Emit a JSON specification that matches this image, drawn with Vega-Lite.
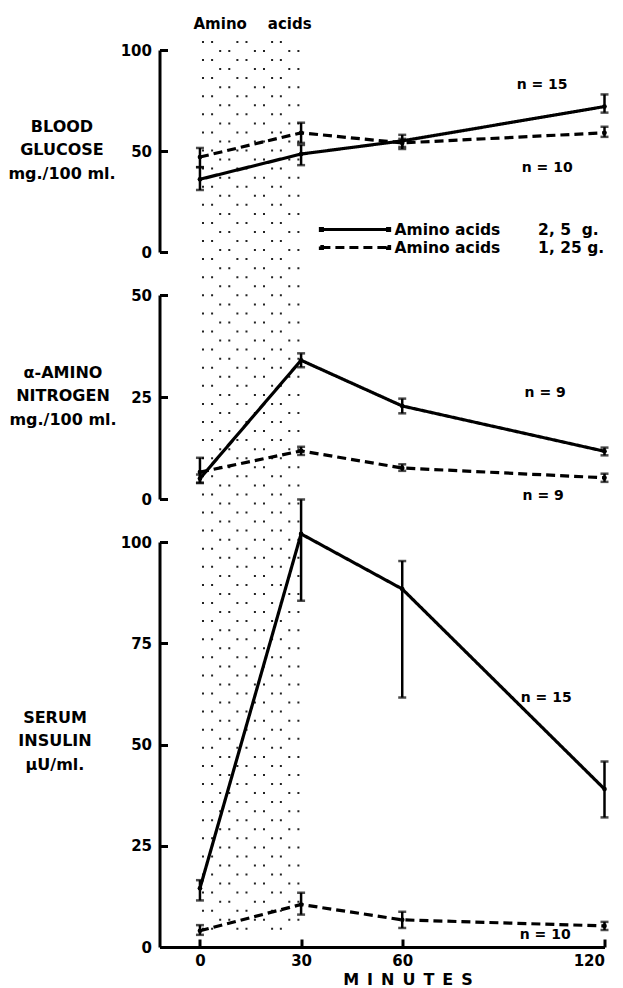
{
  "$schema": "https://vega.github.io/schema/vega-lite/v6.json",
  "background": "white",
  "padding": {"left": 7.5, "top": 16, "right": 5, "bottom": 5},
  "autosize": {"type": "pad"},
  "datasets": {
    "d": [
      {"panel": "glucose", "dose": "2.5", "t": 0, "mean": 36, "lo": 30.7, "hi": 42},
      {"panel": "glucose", "dose": "2.5", "t": 30, "mean": 48.5, "lo": 43, "hi": 53},
      {"panel": "glucose", "dose": "2.5", "t": 60, "mean": 55, "lo": 51, "hi": 58},
      {"panel": "glucose", "dose": "2.5", "t": 120, "mean": 72, "lo": 69, "hi": 78},
      {"panel": "glucose", "dose": "1.25", "t": 0, "mean": 47, "lo": 42, "hi": 51.5},
      {"panel": "glucose", "dose": "1.25", "t": 30, "mean": 59, "lo": 54, "hi": 64},
      {"panel": "glucose", "dose": "1.25", "t": 60, "mean": 54, "lo": 52, "hi": 56},
      {"panel": "glucose", "dose": "1.25", "t": 120, "mean": 59, "lo": 57, "hi": 62},
      {"panel": "amino", "dose": "2.5", "t": 0, "mean": 5, "lo": 4, "hi": 6},
      {"panel": "amino", "dose": "2.5", "t": 30, "mean": 34, "lo": 32.3, "hi": 35.7},
      {"panel": "amino", "dose": "2.5", "t": 60, "mean": 22.8, "lo": 21, "hi": 24.6},
      {"panel": "amino", "dose": "2.5", "t": 120, "mean": 11.7, "lo": 10.7, "hi": 12.6},
      {"panel": "amino", "dose": "1.25", "t": 0, "mean": 6.6, "lo": 3.9, "hi": 10.1},
      {"panel": "amino", "dose": "1.25", "t": 30, "mean": 11.8, "lo": 10.8, "hi": 12.8},
      {"panel": "amino", "dose": "1.25", "t": 60, "mean": 7.6, "lo": 6.9, "hi": 8.5},
      {"panel": "amino", "dose": "1.25", "t": 120, "mean": 5.2, "lo": 4.2, "hi": 6.2},
      {"panel": "insulin", "dose": "2.5", "t": 0, "mean": 14.5, "lo": 11.5, "hi": 16.5},
      {"panel": "insulin", "dose": "2.5", "t": 30, "mean": 102, "lo": 85.5, "hi": 110.5},
      {"panel": "insulin", "dose": "2.5", "t": 60, "mean": 88.4, "lo": 61.6, "hi": 95.3},
      {"panel": "insulin", "dose": "2.5", "t": 120, "mean": 39, "lo": 32, "hi": 45.8},
      {"panel": "insulin", "dose": "1.25", "t": 0, "mean": 4, "lo": 3, "hi": 5.4},
      {"panel": "insulin", "dose": "1.25", "t": 30, "mean": 10.5, "lo": 8, "hi": 13.4},
      {"panel": "insulin", "dose": "1.25", "t": 60, "mean": 6.7, "lo": 4.7, "hi": 8.7},
      {"panel": "insulin", "dose": "1.25", "t": 120, "mean": 5.2, "lo": 4.2, "hi": 6.2}
    ],
    "dotsA": [{"m": 0.9}, {"m": 3.6}, {"m": 11.1}, {"m": 13.8}, {"m": 21.4}, {"m": 24.0}],
    "dotsB": [{"m": 6.0}, {"m": 8.7}, {"m": 16.3}, {"m": 19.0}, {"m": 26.5}, {"m": 29.2}],
    "one": [{}]
  },
  "spacing": 43,
  "bounds": "flush",
  "vconcat": [
    {
      "width": 445, "height": 202,
      "data": {"name": "d"},
      "transform": [{"filter": "datum.panel == 'glucose'"}],
      "layer": [
        {
          "data": {"name": "dotsA"},
          "mark": {"type": "rule", "strokeDash": [2, 16.1], "strokeWidth": 2, "strokeCap": "butt", "color": "#222"},
          "encoding": {
            "x": {"field": "m", "type": "quantitative", "scale": {"domain": [-12, 120], "nice": false, "zero": false}, "axis": null},
            "y": {"datum": 104.5, "type": "quantitative", "scale": {"domain": [0, 100], "nice": false, "zero": false}},
            "y2": {"datum": -337}
          }
        },
        {
          "data": {"name": "dotsB"},
          "mark": {"type": "rule", "strokeDash": [2, 16.1], "strokeDashOffset": 9, "strokeWidth": 2, "strokeCap": "butt", "color": "#222"},
          "encoding": {
            "x": {"field": "m", "type": "quantitative", "scale": {"domain": [-12, 120], "nice": false, "zero": false}, "axis": null},
            "y": {"datum": 104.5, "type": "quantitative", "scale": {"domain": [0, 100], "nice": false, "zero": false}},
            "y2": {"datum": -337}
          }
        },
        {
          "mark": {"type": "rule", "strokeWidth": 2.5, "color": "black"},
          "encoding": {
            "x": {"field": "t", "type": "quantitative", "scale": {"domain": [-12, 120], "nice": false, "zero": false}, "axis": null},
            "y": {"field": "lo", "type": "quantitative", "scale": {"domain": [0, 100], "nice": false, "zero": false},
                  "axis": {"values": [0, 50, 100], "title": ["BLOOD", "GLUCOSE", "mg./100 ml."], "titleAngle": 0, "titleAlign": "center", "titleBaseline": "middle", "titleX": -98, "titleY": 76, "titleLineHeight": 23.5}},
            "y2": {"field": "hi"}
          }
        },
        {
          "mark": {"type": "tick", "orient": "horizontal", "size": 8, "thickness": 2.5, "color": "black"},
          "encoding": {
            "x": {"field": "t", "type": "quantitative", "scale": {"domain": [-12, 120], "nice": false, "zero": false}, "axis": null},
            "y": {"field": "lo", "type": "quantitative", "scale": {"domain": [0, 100], "nice": false, "zero": false}}
          }
        },
        {
          "mark": {"type": "tick", "orient": "horizontal", "size": 8, "thickness": 2.5, "color": "black"},
          "encoding": {
            "x": {"field": "t", "type": "quantitative", "scale": {"domain": [-12, 120], "nice": false, "zero": false}, "axis": null},
            "y": {"field": "hi", "type": "quantitative", "scale": {"domain": [0, 100], "nice": false, "zero": false}}
          }
        },
        {
          "mark": {"type": "line", "strokeWidth": 3.2, "color": "black"},
          "encoding": {
            "x": {"field": "t", "type": "quantitative", "scale": {"domain": [-12, 120], "nice": false, "zero": false}, "axis": null},
            "y": {"field": "mean", "type": "quantitative", "scale": {"domain": [0, 100], "nice": false, "zero": false}},
            "strokeDash": {"field": "dose", "type": "nominal",
              "scale": {"domain": ["2.5", "1.25"], "range": [[1, 0], [9, 5]]},
              "legend": {"orient": "none", "legendX": 187, "legendY": 171, "title": null,
                "symbolType": "M-4.8,0H4.8M-4.95,-0.15h0.3v0.3h-0.3zM4.65,-0.15h0.3v0.3h-0.3z",
                "symbolSize": 196, "symbolStrokeWidth": 3, "symbolStrokeColor": "black", "symbolFillColor": "black",
                "labelOffset": 31, "rowPadding": 1, "labelLimit": 400,
                "labelExpr": "datum.label == '2.5' ? 'Amino acids\u00a0\u00a0\u00a0\u00a0\u00a0\u00a0\u00a02, 5\u00a0\u00a0g.' : 'Amino acids\u00a0\u00a0\u00a0\u00a0\u00a0\u00a0\u00a01, 25\u00a0g.'",
                "encode": {"symbols": {"update": {"fill": {"value": "black"}, "stroke": {"value": "black"}, "strokeWidth": {"value": 3}}}}}}
          }
        },
        {
          "mark": {"type": "circle", "size": 22, "color": "black", "opacity": 1},
          "encoding": {
            "x": {"field": "t", "type": "quantitative", "scale": {"domain": [-12, 120], "nice": false, "zero": false}, "axis": null},
            "y": {"field": "mean", "type": "quantitative", "scale": {"domain": [0, 100], "nice": false, "zero": false}}
          }
        },
        {
          "data": {"name": "one"},
          "mark": {"type": "text", "text": "n = 15", "font": "DejaVu Sans", "fontWeight": "bold", "fontSize": 14, "color": "black"},
          "encoding": {
            "x": {"datum": 101.5, "type": "quantitative", "scale": {"domain": [-12, 120], "nice": false, "zero": false}, "axis": null},
            "y": {"datum": 82.7, "type": "quantitative", "scale": {"domain": [0, 100], "nice": false, "zero": false}}
          }
        },
        {
          "data": {"name": "one"},
          "mark": {"type": "text", "text": "n = 10", "font": "DejaVu Sans", "fontWeight": "bold", "fontSize": 14, "color": "black"},
          "encoding": {
            "x": {"datum": 103, "type": "quantitative", "scale": {"domain": [-12, 120], "nice": false, "zero": false}, "axis": null},
            "y": {"datum": 41.6, "type": "quantitative", "scale": {"domain": [0, 100], "nice": false, "zero": false}}
          }
        },
        {
          "data": {"name": "one"},
          "mark": {"type": "text", "text": "Amino\u00a0\u00a0\u00a0\u00a0acids", "font": "DejaVu Sans", "fontWeight": "bold", "fontSize": 15, "color": "black"},
          "encoding": {
            "x": {"datum": 15.6, "type": "quantitative", "scale": {"domain": [-12, 120], "nice": false, "zero": false}, "axis": null},
            "y": {"datum": 113, "type": "quantitative", "scale": {"domain": [0, 100], "nice": false, "zero": false}}
          }
        }
      ]
    },
    {
      "width": 445, "height": 204,
      "data": {"name": "d"},
      "transform": [{"filter": "datum.panel == 'amino'"}],
      "layer": [
        {
          "mark": {"type": "rule", "strokeWidth": 2.5, "color": "black"},
          "encoding": {
            "x": {"field": "t", "type": "quantitative", "scale": {"domain": [-12, 120], "nice": false, "zero": false}, "axis": null},
            "y": {"field": "lo", "type": "quantitative", "scale": {"domain": [0, 50], "nice": false, "zero": false},
                  "axis": {"values": [0, 25, 50], "title": ["α-AMINO", "NITROGEN", "mg./100 ml."], "titleAngle": 0, "titleAlign": "center", "titleBaseline": "middle", "titleX": -97, "titleY": 77, "titleLineHeight": 23.5}},
            "y2": {"field": "hi"}
          }
        },
        {
          "mark": {"type": "tick", "orient": "horizontal", "size": 8, "thickness": 2.5, "color": "black"},
          "encoding": {
            "x": {"field": "t", "type": "quantitative", "scale": {"domain": [-12, 120], "nice": false, "zero": false}, "axis": null},
            "y": {"field": "lo", "type": "quantitative", "scale": {"domain": [0, 50], "nice": false, "zero": false}}
          }
        },
        {
          "mark": {"type": "tick", "orient": "horizontal", "size": 8, "thickness": 2.5, "color": "black"},
          "encoding": {
            "x": {"field": "t", "type": "quantitative", "scale": {"domain": [-12, 120], "nice": false, "zero": false}, "axis": null},
            "y": {"field": "hi", "type": "quantitative", "scale": {"domain": [0, 50], "nice": false, "zero": false}}
          }
        },
        {
          "mark": {"type": "line", "strokeWidth": 3.2, "color": "black"},
          "encoding": {
            "x": {"field": "t", "type": "quantitative", "scale": {"domain": [-12, 120], "nice": false, "zero": false}, "axis": null},
            "y": {"field": "mean", "type": "quantitative", "scale": {"domain": [0, 50], "nice": false, "zero": false}},
            "strokeDash": {"field": "dose", "type": "nominal", "scale": {"domain": ["2.5", "1.25"], "range": [[1, 0], [9, 5]]}, "legend": null}
          }
        },
        {
          "mark": {"type": "circle", "size": 22, "color": "black", "opacity": 1},
          "encoding": {
            "x": {"field": "t", "type": "quantitative", "scale": {"domain": [-12, 120], "nice": false, "zero": false}, "axis": null},
            "y": {"field": "mean", "type": "quantitative", "scale": {"domain": [0, 50], "nice": false, "zero": false}}
          }
        },
        {
          "data": {"name": "one"},
          "mark": {"type": "text", "text": "n = 9", "font": "DejaVu Sans", "fontWeight": "bold", "fontSize": 14, "color": "black"},
          "encoding": {
            "x": {"datum": 102.4, "type": "quantitative", "scale": {"domain": [-12, 120], "nice": false, "zero": false}, "axis": null},
            "y": {"datum": 25.9, "type": "quantitative", "scale": {"domain": [0, 50], "nice": false, "zero": false}}
          }
        },
        {
          "data": {"name": "one"},
          "mark": {"type": "text", "text": "n = 9", "font": "DejaVu Sans", "fontWeight": "bold", "fontSize": 14, "color": "black"},
          "encoding": {
            "x": {"datum": 101.8, "type": "quantitative", "scale": {"domain": [-12, 120], "nice": false, "zero": false}, "axis": null},
            "y": {"datum": 0.7, "type": "quantitative", "scale": {"domain": [0, 50], "nice": false, "zero": false}}
          }
        }
      ]
    },
    {
      "width": 445, "height": 405,
      "data": {"name": "d"},
      "transform": [{"filter": "datum.panel == 'insulin'"}],
      "layer": [
        {
          "mark": {"type": "rule", "strokeWidth": 2.5, "color": "black"},
          "encoding": {
            "x": {"field": "t", "type": "quantitative", "scale": {"domain": [-12, 120], "nice": false, "zero": false},
                  "axis": {"values": [0, 30, 60, 120], "labelPadding": 14, "title": "M\u2002I\u2002N\u2002U\u2002T\u2002E\u2002S", "titleX": 248, "titleY": 32, "titleAlign": "center", "titleBaseline": "middle", "titleFontSize": 16}},
            "y": {"field": "lo", "type": "quantitative", "scale": {"domain": [0, 100], "nice": false, "zero": false},
                  "axis": {"values": [0, 25, 50, 75, 100], "title": ["SERUM", "INSULIN", "μU/ml."], "titleAngle": 0, "titleAlign": "center", "titleBaseline": "middle", "titleX": -105, "titleY": 175, "titleLineHeight": 23.5}},
            "y2": {"field": "hi"}
          }
        },
        {
          "mark": {"type": "tick", "orient": "horizontal", "size": 8, "thickness": 2.5, "color": "black"},
          "encoding": {
            "x": {"field": "t", "type": "quantitative", "scale": {"domain": [-12, 120], "nice": false, "zero": false}},
            "y": {"field": "lo", "type": "quantitative", "scale": {"domain": [0, 100], "nice": false, "zero": false}}
          }
        },
        {
          "mark": {"type": "tick", "orient": "horizontal", "size": 8, "thickness": 2.5, "color": "black"},
          "encoding": {
            "x": {"field": "t", "type": "quantitative", "scale": {"domain": [-12, 120], "nice": false, "zero": false}},
            "y": {"field": "hi", "type": "quantitative", "scale": {"domain": [0, 100], "nice": false, "zero": false}}
          }
        },
        {
          "mark": {"type": "line", "strokeWidth": 3.2, "color": "black"},
          "encoding": {
            "x": {"field": "t", "type": "quantitative", "scale": {"domain": [-12, 120], "nice": false, "zero": false}},
            "y": {"field": "mean", "type": "quantitative", "scale": {"domain": [0, 100], "nice": false, "zero": false}},
            "strokeDash": {"field": "dose", "type": "nominal", "scale": {"domain": ["2.5", "1.25"], "range": [[1, 0], [9, 5]]}, "legend": null}
          }
        },
        {
          "mark": {"type": "circle", "size": 22, "color": "black", "opacity": 1},
          "encoding": {
            "x": {"field": "t", "type": "quantitative", "scale": {"domain": [-12, 120], "nice": false, "zero": false}},
            "y": {"field": "mean", "type": "quantitative", "scale": {"domain": [0, 100], "nice": false, "zero": false}}
          }
        },
        {
          "data": {"name": "one"},
          "mark": {"type": "text", "text": "n = 15", "font": "DejaVu Sans", "fontWeight": "bold", "fontSize": 14, "color": "black"},
          "encoding": {
            "x": {"datum": 102.7, "type": "quantitative", "scale": {"domain": [-12, 120], "nice": false, "zero": false}},
            "y": {"datum": 61.4, "type": "quantitative", "scale": {"domain": [0, 100], "nice": false, "zero": false}}
          }
        },
        {
          "data": {"name": "one"},
          "mark": {"type": "text", "text": "n = 10", "font": "DejaVu Sans", "fontWeight": "bold", "fontSize": 14, "color": "black"},
          "encoding": {
            "x": {"datum": 102.4, "type": "quantitative", "scale": {"domain": [-12, 120], "nice": false, "zero": false}},
            "y": {"datum": 3, "type": "quantitative", "scale": {"domain": [0, 100], "nice": false, "zero": false}}
          }
        }
      ]
    }
  ],
  "config": {
    "view": {"stroke": null},
    "axis": {
      "grid": false, "domainColor": "black", "domainWidth": 3, "tickColor": "black", "tickWidth": 3, "tickSize": -8,
      "labelColor": "black", "labelFont": "DejaVu Sans", "labelFontWeight": "bold", "labelFontSize": 15, "labelPadding": 16,
      "titleColor": "black", "titleFont": "DejaVu Sans", "titleFontWeight": "bold", "titleFontSize": 16
    },
    "legend": {
      "labelFont": "DejaVu Sans", "labelFontWeight": "bold", "labelFontSize": 15.5, "labelColor": "black", "padding": 0
    }
  }
}
